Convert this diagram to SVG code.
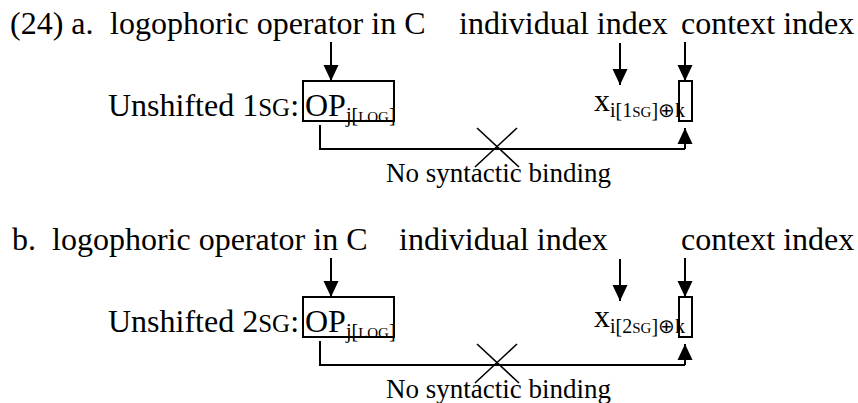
<svg xmlns="http://www.w3.org/2000/svg" width="858" height="403" viewBox="0 0 858 403" font-family="'Liberation Serif','Times New Roman',serif">
<style>
text{font-family:"Liberation Serif","Times New Roman",serif;fill:#000}
.t{font-size:32px}
.s{font-size:20px}
.sc{font-size:15px}
.nb{font-size:27px}
.ln{stroke:#000;stroke-width:2;fill:none}
.x{stroke:#000;stroke-width:1.6;fill:none}
.bx{stroke:#000;stroke-width:2;fill:none}
</style>
<defs>
<marker id="ah" markerUnits="userSpaceOnUse" markerWidth="16" markerHeight="16" viewBox="0 0 16 16" refX="16" refY="8" orient="auto">
<path d="M0,0.5 L16,8 L0,15.5 Z" fill="#000"/>
</marker>
</defs>
<g id="part-a">
<g id="a-title">
<text class="t" x="10" y="34">(24) a.</text>
<text class="t" x="110" y="34">logophoric operator in C</text>
</g>
<g id="a-individual-label"><text class="t" x="459" y="34">individual index</text></g>
<g id="a-context-label"><text class="t" x="681" y="34">context index</text></g>
<g id="a-op">
<text class="t" x="108" y="116">Unshifted 1<tspan font-size="25">SG</tspan>:</text>
<rect class="bx" x="303" y="81" width="91" height="40"/>
<text class="t" x="305" y="116">OP<tspan class="s" dy="6">j[<tspan class="sc">LOG</tspan>]</tspan></text>
</g>
<g id="a-x">
<text class="t" x="594" y="111">x<tspan class="s" dy="6">i[1<tspan class="sc">SG</tspan>]⊕k</tspan></text>
<rect class="bx" x="679" y="81" width="13" height="40"/>
</g>
<g id="a-nobinding">
<text class="nb" x="386" y="182">No syntactic binding</text>
</g>
</g>
<g id="part-b">
<g id="b-title">
<text class="t" x="12" y="250">b.</text>
<text class="t" x="52" y="250">logophoric operator in C</text>
</g>
<g id="b-individual-label"><text class="t" x="399" y="250">individual index</text></g>
<g id="b-context-label"><text class="t" x="681" y="250">context index</text></g>
<g id="b-op">
<text class="t" x="108" y="332">Unshifted 2<tspan font-size="25">SG</tspan>:</text>
<rect class="bx" x="303" y="297" width="91" height="40"/>
<text class="t" x="305" y="332">OP<tspan class="s" dy="6">j[<tspan class="sc">LOG</tspan>]</tspan></text>
</g>
<g id="b-x">
<text class="t" x="594" y="327">x<tspan class="s" dy="6">i[2<tspan class="sc">SG</tspan>]⊕k</tspan></text>
<rect class="bx" x="679" y="297" width="13" height="40"/>
</g>
<g id="b-nobinding">
<text class="nb" x="386" y="398">No syntactic binding</text>
</g>
</g>
<g id="connectors">
<line class="ln" x1="331" y1="42" x2="331" y2="81" marker-end="url(#ah)"/>
<line class="ln" x1="620" y1="43" x2="620" y2="85" marker-end="url(#ah)"/>
<line class="ln" x1="685" y1="42" x2="685" y2="81" marker-end="url(#ah)"/>
<path class="ln" d="M320,125 V149 H685"/>
<line class="ln" x1="685" y1="149" x2="685" y2="128" marker-end="url(#ah)"/>
<line class="x" x1="477" y1="128" x2="519" y2="167"/>
<line class="x" x1="517" y1="128" x2="475" y2="167"/>
<line class="ln" x1="331" y1="258" x2="331" y2="297" marker-end="url(#ah)"/>
<line class="ln" x1="620" y1="259" x2="620" y2="301" marker-end="url(#ah)"/>
<line class="ln" x1="685" y1="258" x2="685" y2="297" marker-end="url(#ah)"/>
<path class="ln" d="M320,341 V365 H685"/>
<line class="ln" x1="685" y1="365" x2="685" y2="344" marker-end="url(#ah)"/>
<line class="x" x1="477" y1="344" x2="519" y2="383"/>
<line class="x" x1="517" y1="344" x2="475" y2="383"/>
</g>
</svg>
